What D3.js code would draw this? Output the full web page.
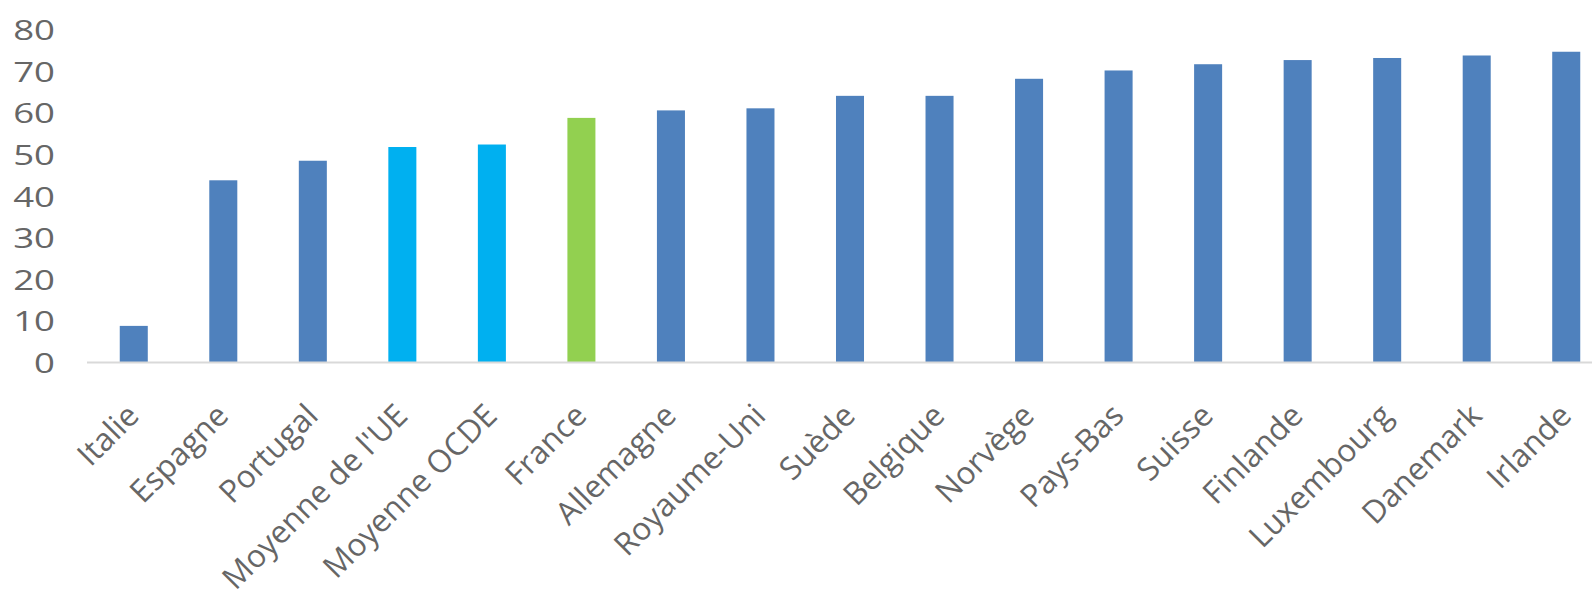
<!DOCTYPE html>
<html>
<head>
<meta charset="utf-8">
<script src="https://cdn.jsdelivr.net/npm/d3@7"></script>
<style>
  html, body { margin: 0; padding: 0; background: #ffffff; }
  svg { display: block; }
  text { font-family: "Open Sans", "Noto Sans", sans-serif; fill: #666666; }
</style>
</head>
<body>
<svg id="chart" width="1592" height="606"></svg>
<script>
const categories = ["Italie", "Espagne", "Portugal", "Moyenne de l'UE", "Moyenne OCDE", "France",
  "Allemagne", "Royaume-Uni", "Suède", "Belgique", "Norvège", "Pays-Bas", "Suisse",
  "Finlande", "Luxembourg", "Danemark", "Irlande"];
const values = [8.8, 43.8, 48.5, 51.8, 52.4, 58.8, 60.6, 61.1, 64.1, 64.1, 68.2, 70.2, 71.7, 72.7, 73.2, 73.8, 74.7];
const barKinds = ["pays", "pays", "pays", "moyenne", "moyenne", "france",
  "pays", "pays", "pays", "pays", "pays", "pays", "pays", "pays", "pays", "pays", "pays"];
const yTicks = [0, 10, 20, 30, 40, 50, 60, 70, 80];

const colorByKind = { pays: "#4F81BD", moyenne: "#00B0F0", france: "#92D050" };

const svg = d3.select("#chart");
const baseY = 362.5, topY = 29.7;
const x = d3.scaleBand().domain(categories).range([89, 1611]).paddingInner(0.687).paddingOuter(0.3435);
const y = d3.scaleLinear().domain([0, 80]).range([baseY, topY]);

// y tick labels
const yAxis = d3.axisLeft(y).tickValues(yTicks).tickSize(0).tickPadding(0);
const gy = svg.append("g").attr("transform", "translate(55,0)").call(yAxis);
gy.select(".domain").remove();
gy.selectAll(".tick text")
  .attr("x", 0)
  .attr("dy", "0.36em")
  .attr("font-size", 27.5)
  .attr("fill", "#707070")
  .attr("text-anchor", "end")
  .attr("transform", "scale(1.33,1)");

// bars
svg.append("g").selectAll("rect").data(categories).join("rect")
  .attr("x", d => x(d))
  .attr("width", x.bandwidth())
  .attr("y", (d, i) => y(values[i]))
  .attr("height", (d, i) => baseY - y(values[i]))
  .attr("fill", (d, i) => colorByKind[barKinds[i]]);

// x axis
const xAxis = d3.axisBottom(x).tickSize(0).tickPadding(0);
const gx = svg.append("g").attr("transform", `translate(0,${baseY})`).call(xAxis);
gx.select(".domain").attr("d", "M87,0H1592").attr("stroke", "#d9d9d9").attr("stroke-width", 2);
gx.selectAll(".tick text")
  .attr("font-size", 31.5)
  .attr("fill", "#666666")
  .attr("text-anchor", "end")
  .attr("dy", 0)
  .attr("y", 0)
  .attr("transform", "translate(7,55) rotate(-45)");
</script>
</body>
</html>
